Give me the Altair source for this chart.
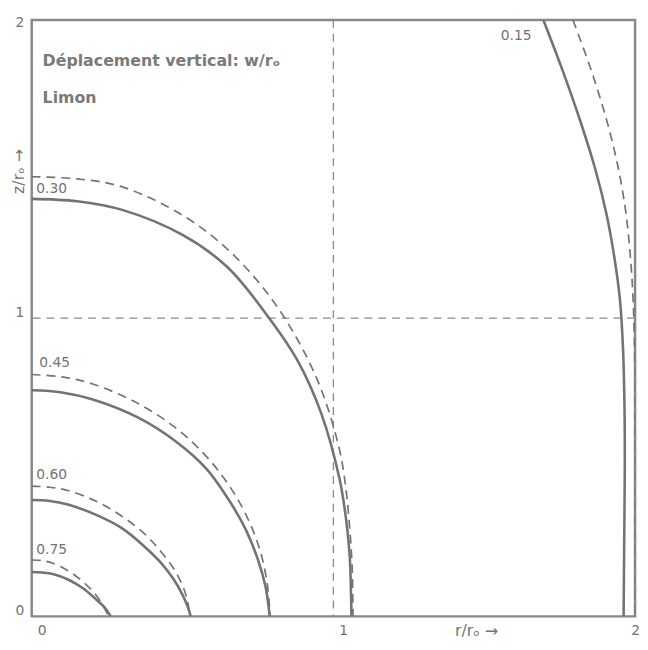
import altair as alt
import pandas as pd

# ---- curve values (r/r0, z/r0) ----
c015_solid_r = [1.696, 1.76, 1.82, 1.868, 1.905, 1.932, 1.95, 1.96, 1.965, 1.966, 1.964, 1.962]
c015_solid_z = [2.0, 1.83, 1.656, 1.50, 1.35, 1.20, 1.06, 0.90, 0.70, 0.50, 0.25, 0.0]
c015_dash_r = [1.794, 1.855, 1.908, 1.945, 1.97, 1.985, 1.994, 1.999, 2.0, 2.0]
c015_dash_z = [2.0, 1.83, 1.656, 1.50, 1.35, 1.20, 1.05, 0.85, 0.50, 0.0]

c030_solid_r = [0.0, 0.15, 0.30, 0.50, 0.65, 0.78, 0.88, 0.96, 1.02, 1.04, 1.05, 1.055, 1.06]
c030_solid_z = [1.40, 1.392, 1.363, 1.279, 1.17, 1.01, 0.86, 0.68, 0.463, 0.342, 0.252, 0.186, 0.0]
c030_dash_r = [0.0, 0.15, 0.30, 0.50, 0.65, 0.78, 0.88, 0.96, 1.02, 1.04, 1.053, 1.062, 1.065]
c030_dash_z = [1.474, 1.467, 1.44, 1.345, 1.23, 1.085, 0.93, 0.76, 0.56, 0.44, 0.31, 0.17, 0.0]

c045_solid_r = [0.0, 0.10, 0.20, 0.35, 0.48, 0.58, 0.66, 0.71, 0.75, 0.775, 0.789]
c045_solid_z = [0.758, 0.751, 0.728, 0.668, 0.585, 0.494, 0.38, 0.29, 0.19, 0.10, 0.0]
c045_dash_r = [0.0, 0.10, 0.20, 0.35, 0.48, 0.58, 0.66, 0.72, 0.76, 0.782, 0.79]
c045_dash_z = [0.811, 0.803, 0.78, 0.715, 0.63, 0.535, 0.43, 0.32, 0.21, 0.10, 0.0]

c060_solid_r = [0.0, 0.06, 0.12, 0.212, 0.30, 0.376, 0.43, 0.47, 0.50, 0.518, 0.527]
c060_solid_z = [0.39, 0.387, 0.375, 0.341, 0.295, 0.232, 0.178, 0.125, 0.072, 0.03, 0.0]
c060_dash_r = [0.0, 0.06, 0.12, 0.212, 0.30, 0.376, 0.43, 0.474, 0.505, 0.518, 0.524]
c060_dash_z = [0.437, 0.433, 0.422, 0.387, 0.335, 0.275, 0.215, 0.155, 0.09, 0.045, 0.0]

c075_solid_r = [0.0, 0.035, 0.07, 0.124, 0.17, 0.212, 0.24, 0.262]
c075_solid_z = [0.149, 0.147, 0.142, 0.122, 0.094, 0.058, 0.032, 0.0]
c075_dash_r = [0.0, 0.035, 0.07, 0.124, 0.165, 0.20, 0.228, 0.255]
c075_dash_z = [0.189, 0.187, 0.178, 0.151, 0.12, 0.087, 0.05, 0.0]

curve_labels = ["0.15", "0.30", "0.45", "0.60", "0.75"]
curve_label_r = [1.555, 0.015, 0.025, 0.015, 0.015]
curve_label_z = [1.947, 1.434, 0.851, 0.474, 0.222]

ref_r = [1.0]
ref_z = [1.0]

x_ticks = [0, 1, 2]
y_ticks = [0, 1, 2]

title_lines = ["Déplacement vertical: w/rₒ", "Limon"]
title_r = [0.036, 0.036]
title_z = [1.861, 1.738]

# ---- build tables ----
series = [
    ("0.15", "solid", c015_solid_r, c015_solid_z),
    ("0.15", "dashed", c015_dash_r, c015_dash_z),
    ("0.30", "solid", c030_solid_r, c030_solid_z),
    ("0.30", "dashed", c030_dash_r, c030_dash_z),
    ("0.45", "solid", c045_solid_r, c045_solid_z),
    ("0.45", "dashed", c045_dash_r, c045_dash_z),
    ("0.60", "solid", c060_solid_r, c060_solid_z),
    ("0.60", "dashed", c060_dash_r, c060_dash_z),
    ("0.75", "solid", c075_solid_r, c075_solid_z),
    ("0.75", "dashed", c075_dash_r, c075_dash_z),
]
rows = []
for lab, sty, rs, zs in series:
    for i, (r, z) in enumerate(zip(rs, zs)):
        rows.append({"id": lab + "-" + sty, "style": sty, "r": r, "z": z, "idx": i})
df = pd.DataFrame(rows)
df_lab = pd.DataFrame({"label": curve_labels, "r": curve_label_r, "z": curve_label_z})
df_title = pd.DataFrame({"label": title_lines, "r": title_r, "z": title_z})
df_vref = pd.DataFrame({"r": ref_r})
df_href = pd.DataFrame({"z": ref_z})

GRAY = "#737373"
xs = alt.Scale(domain=[0, 2], nice=False, zero=False)
ys = alt.Scale(domain=[0, 2], nice=False, zero=False)

xaxis = alt.Axis(
    values=x_ticks, labelExpr="format(datum.value, '.0f')", title="r/rₒ →",
    grid=False, domain=False, ticks=False,
    labelFontSize=14, labelFont="DejaVu Sans", labelColor=GRAY, labelPadding=7,
    labelOffset={"condition": {"test": "datum.value == 2", "value": 0}, "value": 10},
    labelFlush=False, labelBound=False, labelOverlap=False,
    titleFont="DejaVu Sans", titleFontSize=16, titleFontWeight="normal", titleColor=GRAY,
    titleX=450, titleY=14, titleAlign="center", titleBaseline="middle", titleAnchor="start",
)
yaxis = alt.Axis(
    values=y_ticks, labelExpr="format(datum.value, '.0f')", title="z/rₒ →",
    grid=False, domain=False, ticks=False,
    labelFontSize=14, labelFont="DejaVu Sans", labelColor=GRAY, labelPadding=8,
    labelOffset={"condition": {"test": "datum.value == 2", "value": 3}, "value": -6},
    labelFlush=False, labelBound=False, labelOverlap=False,
    titleFont="DejaVu Sans", titleFontSize=16, titleFontWeight="normal", titleColor=GRAY,
    titleAngle=270, titleX=-13, titleY=153, titleAlign="center", titleBaseline="middle",
    titleAnchor="start",
)

base = alt.Chart(df)

solid = base.transform_filter(alt.datum.style == "solid").mark_line(
    interpolate="catmull-rom", color=GRAY, strokeWidth=2.6, clip=True
).encode(
    x=alt.X("r:Q", scale=xs, axis=xaxis),
    y=alt.Y("z:Q", scale=ys, axis=yaxis),
    detail="id:N",
    order="idx:Q",
)

dashed = base.transform_filter(alt.datum.style == "dashed").mark_line(
    interpolate="catmull-rom", color=GRAY, strokeWidth=1.7, strokeDash=[9, 6], clip=True
).encode(
    x=alt.X("r:Q", scale=xs),
    y=alt.Y("z:Q", scale=ys),
    detail="id:N",
    order="idx:Q",
)

vref = alt.Chart(df_vref).mark_rule(color="#8a8a8a", strokeWidth=1.3, strokeDash=[8, 6]).encode(
    x=alt.X("r:Q", scale=xs)
)
href = alt.Chart(df_href).mark_rule(color="#8a8a8a", strokeWidth=1.3, strokeDash=[8, 6]).encode(
    y=alt.Y("z:Q", scale=ys)
)

labels = alt.Chart(df_lab).mark_text(
    align="left", baseline="middle", font="DejaVu Sans", fontSize=14, color=GRAY
).encode(
    x=alt.X("r:Q", scale=xs), y=alt.Y("z:Q", scale=ys), text="label:N"
)

titles = alt.Chart(df_title).mark_text(
    align="left", baseline="middle", font="DejaVu Sans", fontSize=16, fontWeight="bold",
    color="#7a7a7a"
).encode(
    x=alt.X("r:Q", scale=xs), y=alt.Y("z:Q", scale=ys), text="label:N"
)

chart = alt.layer(vref, href, solid, dashed, labels, titles).properties(
    width=611, height=604,
    autosize=alt.AutoSizeParams(type="none"),
    padding={"left": 24, "top": 8, "right": 5, "bottom": 30},
    background="white",
).configure_view(
    stroke="#888888", strokeWidth=2.5
)

chart.save("out.html", embed_options={"renderer": "svg", "actions": False})
